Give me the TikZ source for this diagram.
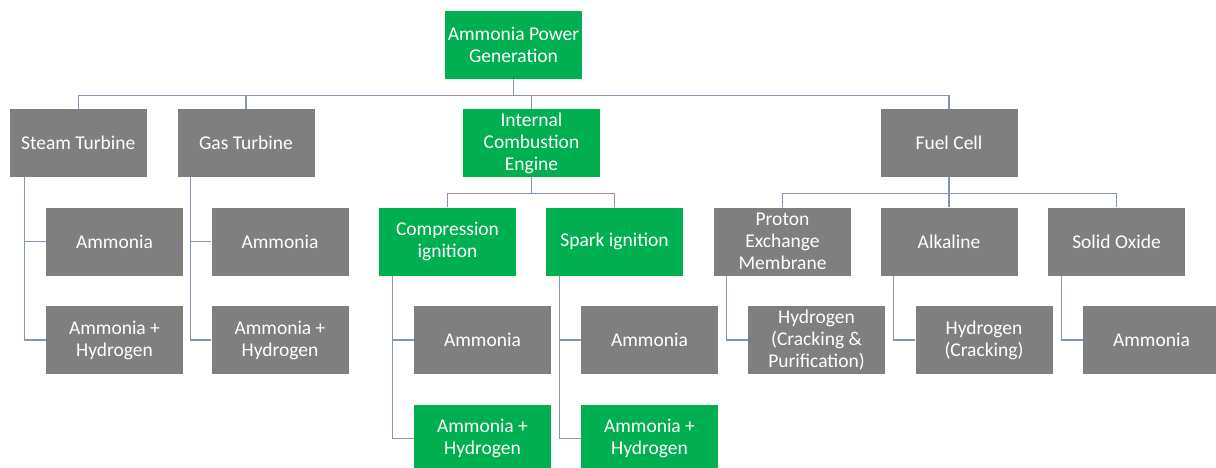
\documentclass[tikz,border=0pt]{standalone}
\usepackage{fontspec}
\setmainfont{Carlito}
\definecolor{boxgreen}{HTML}{00B050}
\definecolor{boxgray}{HTML}{7F7F7F}
\definecolor{linkcol}{HTML}{8497B0}
\tikzset{
  box/.style={rectangle, minimum width=137pt, minimum height=68pt, inner sep=1pt,
    text=white, align=center, font=\fontsize{19.5}{22}\selectfont},
  gbox/.style={box, fill=boxgreen},
  ybox/.style={box, fill=boxgray},
  link/.style={draw=linkcol, line width=1.1pt}
}
\begin{document}
\begin{tikzpicture}[x=1pt,y=-1pt]
\useasboundingbox[fill=white] (0,0) rectangle (1216,468);
% level 0
\node[gbox] (root) at (513.5,45) {Ammonia Power\\Generation};
% level 1
\node[ybox] (steam) at (78.25,143) {Steam Turbine};
\node[ybox] (gas) at (246,143) {Gas Turbine};
\node[gbox] (ice) at (531.5,143) {Internal\\Combustion\\Engine};
\node[ybox] (fuel) at (949,143) {Fuel Cell};
% level 2
\node[ybox] (sa1) at (114.5,241.5) {Ammonia};
\node[ybox] (sa2) at (114.5,340) {Ammonia +\\Hydrogen};
\node[ybox] (ga1) at (280,241.5) {Ammonia};
\node[ybox] (ga2) at (280,340) {Ammonia +\\Hydrogen};
\node[gbox] (comp) at (447.5,241.5) {Compression\\ignition};
\node[gbox] (spark) at (614.5,241.5) {Spark ignition};
\node[ybox] (pem) at (782.5,241.5) {Proton\\Exchange\\Membrane};
\node[ybox] (alk) at (949,241.5) {Alkaline};
\node[ybox] (so) at (1116.5,241.5) {Solid Oxide};
% level 3
\node[ybox] (ca1) at (482.5,340) {Ammonia};
\node[gbox] (ca2) at (482.5,438.5) {Ammonia +\\Hydrogen};
\node[ybox] (pa1) at (649.5,340) {Ammonia};
\node[gbox] (pa2) at (649.5,438.5) {Ammonia +\\Hydrogen};
\node[ybox] (pemh) at (816.5,340) {Hydrogen\\(Cracking \&\\Purification)};
\node[ybox] (alkh) at (984,340) {Hydrogen\\(Cracking)};
\node[ybox] (soa) at (1151.5,340) {Ammonia};
% connectors: top tree
\foreach \c in {steam,gas,ice,fuel}
  \draw[link] (root.south) -- ++(0,16) -| (\c.north);
\foreach \c in {comp,spark}
  \draw[link] (ice.south) -- ++(0,16) -| (\c.north);
\foreach \c in {pem,alk,so}
  \draw[link] (fuel.south) -- ++(0,16) -| (\c.north);
% side connectors
\draw[link] ([xshift=15pt]steam.south west) |- (sa1.west);
\draw[link] ([xshift=15pt]steam.south west) |- (sa2.west);
\draw[link] ([xshift=13pt]gas.south west) |- (ga1.west);
\draw[link] ([xshift=13pt]gas.south west) |- (ga2.west);
\draw[link] ([xshift=14pt]comp.south west) |- (ca1.west);
\draw[link] ([xshift=14pt]comp.south west) |- (ca2.west);
\draw[link] ([xshift=14pt]spark.south west) |- (pa1.west);
\draw[link] ([xshift=14pt]spark.south west) |- (pa2.west);
\draw[link] ([xshift=13pt]pem.south west) |- (pemh.west);
\draw[link] ([xshift=13.5pt]alk.south west) |- (alkh.west);
\draw[link] ([xshift=13.5pt]so.south west) |- (soa.west);
\end{tikzpicture}
\end{document}
